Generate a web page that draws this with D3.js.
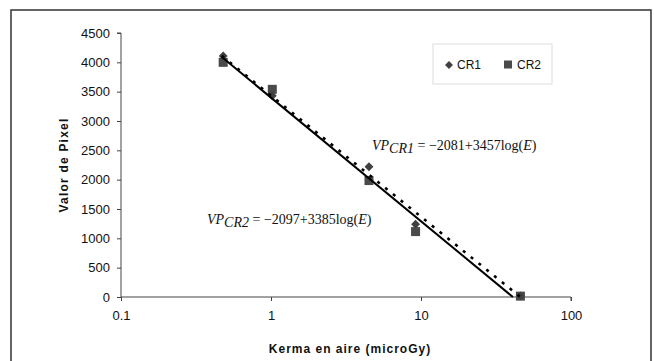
<!DOCTYPE html>
<html><head><meta charset="utf-8">
<script src="https://cdn.jsdelivr.net/npm/d3@7/dist/d3.min.js"></script>
<style>body{margin:0;background:#fff}svg{display:block}</style>
</head><body><svg id="c" width="654" height="361"></svg>
<script>
// Data
const energy = [0.48, 1.02, 4.5, 9.2, 46];
const cr1 = [4110, 3430, 2220, 1240, 20];
const cr2 = [4000, 3540, 1985, 1115, 15];
const fit1E = [0.47, 46];
const fit1V = [4110, 0];
const fit2E = [0.47, 41];
const fit2V = [4090, 0];
const xTicks = [0.1, 1, 10, 100];
const xTickLabels = ["0.1", "1", "10", "100"];
const yTicks = [0, 500, 1000, 1500, 2000, 2500, 3000, 3500, 4000, 4500];
const seriesNames = ["CR1", "CR2"];

const svg = d3.select("#c");
const x = d3.scaleLog().domain([0.1, 100]).range([121, 571]);
const y = d3.scaleLinear().domain([0, 4500]).range([297, 33]);

// frame
svg.append("rect").attr("x", 11).attr("y", 10).attr("width", 640).attr("height", 360)
  .attr("fill", "none").attr("stroke", "#333").attr("stroke-width", 1.5);

const font = "Arial, 'Liberation Sans', sans-serif";

// axes
const yAxis = svg.append("g").attr("transform", "translate(121,0)")
  .call(d3.axisLeft(y).tickValues(yTicks).tickSize(4).tickPadding(7).tickFormat(d3.format("d")));
const xAxis = svg.append("g").attr("transform", "translate(0,297)")
  .call(d3.axisBottom(x).tickValues(xTicks).tickSize(4).tickPadding(10)
    .tickFormat((d, i) => xTickLabels[i]));
[yAxis, xAxis].forEach(g => {
  g.select(".domain").attr("stroke", "#444").attr("stroke-width", 1);
  g.selectAll(".tick line").attr("stroke", "#444");
  g.selectAll(".tick text").attr("fill", "#111").attr("font-family", font).attr("font-size", 13);
});
yAxis.select(".domain").attr("d", `M-4,${y(4500)}H0V${y(0)}`);
xAxis.select(".domain").attr("d", `M${x(0.1)},0H${x(100)}V4`);

// axis titles
svg.append("text").attr("transform", "translate(68,165) rotate(-90)")
  .attr("text-anchor", "middle").attr("font-family", font).attr("font-weight", "bold")
  .attr("font-size", 12).attr("letter-spacing", 1.2).attr("fill", "#111").text("Valor de Pixel");
svg.append("text").attr("x", 350).attr("y", 353)
  .attr("text-anchor", "middle").attr("font-family", font).attr("font-weight", "bold")
  .attr("font-size", 12).attr("letter-spacing", 1).attr("fill", "#111").text("Kerma en aire (microGy)");

// markers
const sqSize = 9;
svg.append("g").selectAll("rect").data(energy.map((e, i) => [e, cr2[i]])).join("rect")
  .attr("x", d => x(d[0]) - sqSize / 2).attr("y", d => y(d[1]) - sqSize / 2)
  .attr("width", sqSize).attr("height", sqSize).attr("fill", "#4a4a4a");
const diamond = d3.symbol().type(d3.symbolDiamond2).size(50);
svg.append("g").selectAll("path").data(energy.map((e, i) => [e, cr1[i]])).join("path")
  .attr("transform", d => `translate(${x(d[0])},${y(d[1])})`).attr("d", diamond).attr("fill", "#404040");

// trend lines
const line = d3.line().x(d => x(d[0])).y(d => y(d[1]));
svg.append("path").datum(fit2E.map((e, i) => [e, fit2V[i]])).attr("d", line)
  .attr("fill", "none").attr("stroke", "#000").attr("stroke-width", 2);
svg.append("path").datum(fit1E.map((e, i) => [e, fit1V[i]])).attr("d", line)
  .attr("fill", "none").attr("stroke", "#000").attr("stroke-width", 2.6).attr("stroke-dasharray", "3,7");

// equations
function eq(xp, yp, sub, a, b) {
  const t = svg.append("text").attr("x", xp).attr("y", yp)
    .attr("font-family", "'Liberation Serif', 'Times New Roman', serif").attr("font-size", 14).attr("fill", "#111");
  t.append("tspan").attr("font-style", "italic").text("VP");
  t.append("tspan").attr("font-style", "italic").attr("dy", 3).text(sub);
  t.append("tspan").attr("dy", -3).text(" = \u2212" + a + "+" + b + "log(");
  t.append("tspan").attr("font-style", "italic").text("E");
  t.append("tspan").text(")");
}
eq(372, 150, "CR1", 2081, 3457);
eq(207, 224, "CR2", 2097, 3385);

// legend
svg.append("rect").attr("x", 433).attr("y", 44).attr("width", 119).attr("height", 40)
  .attr("fill", "#fff").attr("stroke", "#ddd").attr("stroke-width", 1);
svg.append("path").attr("transform", "translate(449,65)").attr("d", d3.symbol().type(d3.symbolDiamond2).size(40))
  .attr("fill", "#404040");
svg.append("rect").attr("x", 504).attr("y", 60.5).attr("width", 8).attr("height", 8).attr("fill", "#4a4a4a");
svg.append("text").attr("x", 457).attr("y", 69).attr("font-family", font).attr("font-size", 12).attr("fill", "#111").text(seriesNames[0]);
svg.append("text").attr("x", 517).attr("y", 69).attr("font-family", font).attr("font-size", 12).attr("fill", "#111").text(seriesNames[1]);
</script></body></html>
